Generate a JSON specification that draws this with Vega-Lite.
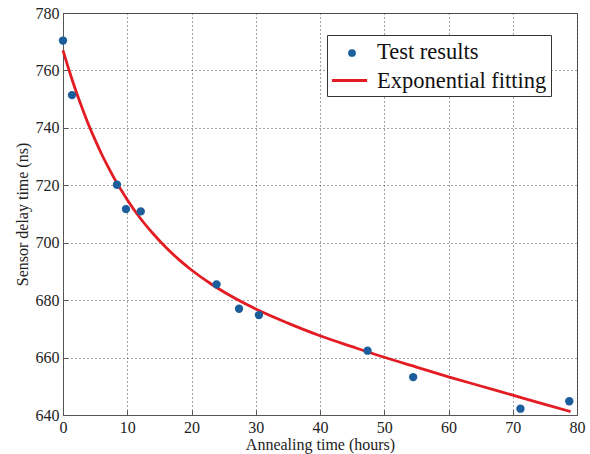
{
  "$schema": "https://vega.github.io/schema/vega-lite/v6.json",
  "width": 514,
  "height": 402,
  "autosize": {"type": "none"},
  "padding": {"left": 63, "top": 13, "right": 13, "bottom": 39},
  "background": "white",
  "config": {
    "font": "Liberation Serif",
    "view": {"stroke": "#555", "strokeWidth": 1},
    "axis": {
      "labelFont": "Liberation Serif",
      "labelFontSize": 16,
      "labelColor": "#222",
      "labelFlush": false,
      "labelOverlap": false,
      "titleFont": "Liberation Serif",
      "titleFontSize": 16,
      "titleFontWeight": "normal",
      "titleColor": "#222",
      "grid": true,
      "gridDash": [1, 3],
      "gridColor": "#333",
      "gridOpacity": 0.9,
      "domainColor": "#555",
      "tickColor": "#555",
      "tickSize": -5,
      "labelPadding": 9
    }
  },
  "datasets": {
    "points": [
      {"hours": 0.0, "delay": 770.4, "series": "Test results"},
      {"hours": 1.4, "delay": 751.4, "series": "Test results"},
      {"hours": 8.4, "delay": 720.2, "series": "Test results"},
      {"hours": 9.8, "delay": 711.7, "series": "Test results"},
      {"hours": 12.1, "delay": 710.9, "series": "Test results"},
      {"hours": 23.9, "delay": 685.5, "series": "Test results"},
      {"hours": 27.4, "delay": 677.0, "series": "Test results"},
      {"hours": 30.5, "delay": 674.8, "series": "Test results"},
      {"hours": 47.4, "delay": 662.4, "series": "Test results"},
      {"hours": 54.5, "delay": 653.2, "series": "Test results"},
      {"hours": 71.2, "delay": 642.2, "series": "Test results"},
      {"hours": 78.8, "delay": 644.8, "series": "Test results"}
    ],
    "fit": [
      {"hours": 0, "delay": 767.0, "series": "Exponential fitting"},
      {"hours": 1, "delay": 759.7, "series": "Exponential fitting"},
      {"hours": 2, "delay": 752.9, "series": "Exponential fitting"},
      {"hours": 3, "delay": 746.8, "series": "Exponential fitting"},
      {"hours": 4, "delay": 741.0, "series": "Exponential fitting"},
      {"hours": 5, "delay": 735.8, "series": "Exponential fitting"},
      {"hours": 6, "delay": 730.9, "series": "Exponential fitting"},
      {"hours": 7, "delay": 726.5, "series": "Exponential fitting"},
      {"hours": 8, "delay": 722.3, "series": "Exponential fitting"},
      {"hours": 10, "delay": 715.0, "series": "Exponential fitting"},
      {"hours": 12, "delay": 708.6, "series": "Exponential fitting"},
      {"hours": 14, "delay": 703.2, "series": "Exponential fitting"},
      {"hours": 16, "delay": 698.4, "series": "Exponential fitting"},
      {"hours": 18, "delay": 694.2, "series": "Exponential fitting"},
      {"hours": 20, "delay": 690.5, "series": "Exponential fitting"},
      {"hours": 23, "delay": 685.7, "series": "Exponential fitting"},
      {"hours": 26, "delay": 681.6, "series": "Exponential fitting"},
      {"hours": 30, "delay": 676.9, "series": "Exponential fitting"},
      {"hours": 35, "delay": 672.0, "series": "Exponential fitting"},
      {"hours": 40, "delay": 667.6, "series": "Exponential fitting"},
      {"hours": 45, "delay": 663.8, "series": "Exponential fitting"},
      {"hours": 50, "delay": 660.1, "series": "Exponential fitting"},
      {"hours": 55, "delay": 656.7, "series": "Exponential fitting"},
      {"hours": 60, "delay": 653.3, "series": "Exponential fitting"},
      {"hours": 65, "delay": 650.1, "series": "Exponential fitting"},
      {"hours": 70, "delay": 646.9, "series": "Exponential fitting"},
      {"hours": 75, "delay": 643.7, "series": "Exponential fitting"},
      {"hours": 79, "delay": 641.2, "series": "Exponential fitting"}
    ]
  },
  "layer": [
    {
      "data": {"name": "fit"},
      "mark": {"type": "line", "strokeWidth": 2.8, "interpolate": "monotone"},
      "encoding": {
        "x": {"field": "hours", "type": "quantitative", "scale": {"domain": [0, 80], "nice": false},
              "axis": {"title": "Annealing time (hours)", "values": [0, 10, 20, 30, 40, 50, 60, 70, 80], "titlePadding": 1}},
        "y": {"field": "delay", "type": "quantitative", "scale": {"domain": [640, 780], "nice": false, "zero": false},
              "axis": {"title": "Sensor delay time (ns)", "values": [640, 660, 680, 700, 720, 740, 760, 780], "titlePadding": 5}},
        "color": {
          "field": "series", "type": "nominal",
          "scale": {"domain": ["Test results", "Exponential fitting"], "range": ["transparent", "#e31b23"]},
          "legend": {
            "orient": "none",
            "legendX": 264,
            "legendY": 22,
            "title": null,
            "direction": "vertical",
            "strokeColor": "#333",
            "fillColor": "white",
            "padding": 4,
            "labelFont": "Liberation Serif",
            "labelFontSize": 22.5,
            "labelColor": "#111",
            "labelLimit": 400,
            "symbolType": "M-1.6,0H1.6",
            "symbolSize": 484,
            "symbolStrokeWidth": 3,
            "symbolOffset": 6,
            "labelOffset": 15,
            "rowPadding": 5
          }
        }
      }
    },
    {
      "data": {"name": "points"},
      "mark": {"type": "point", "filled": true, "size": 70, "opacity": 1},
      "encoding": {
        "x": {"field": "hours", "type": "quantitative"},
        "y": {"field": "delay", "type": "quantitative"},
        "fill": {
          "field": "series", "type": "nominal",
          "scale": {"domain": ["Test results"], "range": ["#1b5e9b"]},
          "legend": {
            "orient": "none",
            "legendX": 284,
            "legendY": 35,
            "title": null,
            "padding": 0,
            "labelExpr": "''",
            "labelFontSize": 1,
            "labelOffset": 0,
            "symbolType": "circle",
            "symbolSize": 60,
            "symbolOffset": 0,
            "symbolOpacity": 1
          }
        }
      }
    }
  ]
}
